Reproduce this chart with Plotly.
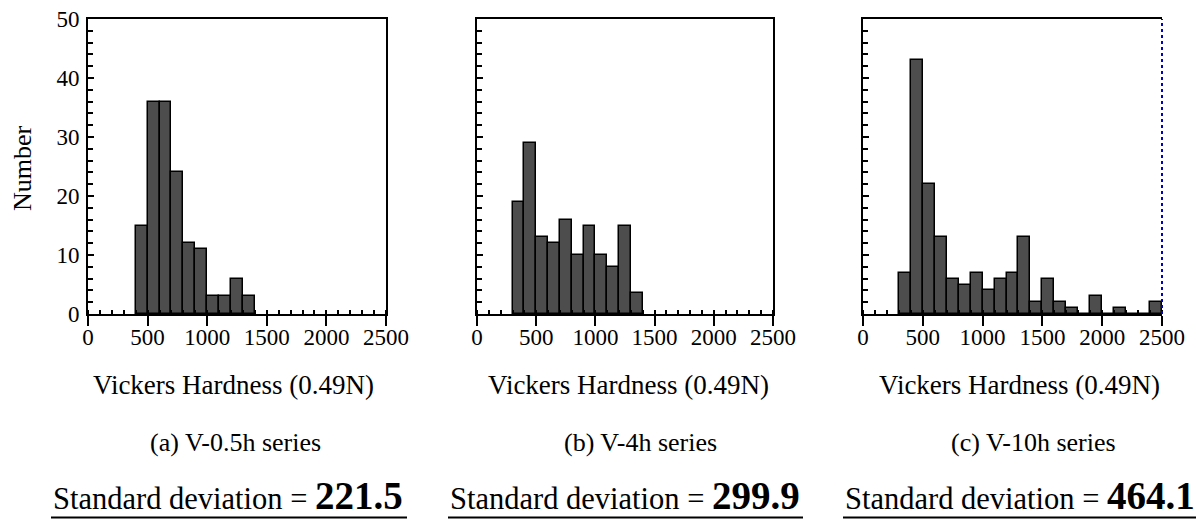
import plotly.graph_objects as go

# Vickers hardness histograms, 100-unit bins (left edges listed)
BIN_WIDTH = 100

bins_a = [400, 500, 600, 700, 800, 900, 1000, 1100, 1200, 1300]
counts_a = [15, 36, 36, 24, 12, 11, 3, 3, 6, 3]

bins_b = [300, 400, 500, 600, 700, 800, 900, 1000, 1100, 1200, 1300]
counts_b = [19, 29, 13, 12, 16, 10, 15, 10, 8, 15, 3.6]

bins_c = [300, 400, 500, 600, 700, 800, 900, 1000, 1100, 1200, 1300,
          1400, 1500, 1600, 1700, 1800, 1900, 2000, 2100, 2200, 2300, 2400]
counts_c = [7, 43, 22, 13, 6, 5, 7, 4, 6, 7, 13,
            2, 6, 2, 1, 0, 3, 0, 1, 0, 0, 2]

captions = ["(a) V-0.5h series", "(b) V-4h series", "(c) V-10h series"]
std_devs = ["221.5", "299.9", "464.1"]
x_ticks = [0, 500, 1000, 1500, 2000, 2500]
x_title = "Vickers Hardness (0.49N)"
y_title = "Number"

W, H = 1196, 523
FONT = "Liberation Serif"
BAR_FILL = "#4d4d4d"

# panel boxes in pixels: (left, right)
panel_px = [(88, 386), (477, 773), (863, 1162)]
top_px, bottom_px = 19, 314
# text centres per panel
xtitle_cx = [233, 628, 1019]
caption_cx = [235, 640, 1033]
std_span = [(51, 407), (448, 803), (843, 1196)]


def px_x(v):
    return v / W


def px_y(v):
    return 1 - v / H


fig = go.Figure()

series = [(bins_a, counts_a), (bins_b, counts_b), (bins_c, counts_c)]
for i, (b, c) in enumerate(series):
    suffix = "" if i == 0 else str(i + 1)
    fig.add_trace(go.Bar(
        x=b, y=c, width=BIN_WIDTH, offset=0,
        marker=dict(color=BAR_FILL, line=dict(color="black", width=1.5)),
        xaxis="x" + suffix, yaxis="y" + suffix,
        showlegend=False, hoverinfo="skip",
    ))

layout = dict(
    width=W, height=H,
    margin=dict(l=0, r=0, t=0, b=0, pad=0, autoexpand=False),
    paper_bgcolor="white", plot_bgcolor="white",
    font=dict(family=FONT, color="black"),
    bargap=0,
)

for i, (l, r) in enumerate(panel_px):
    suffix = "" if i == 0 else str(i + 1)
    layout["xaxis" + suffix] = dict(
        domain=[px_x(l), px_x(r)], anchor="y" + suffix,
        range=[0, 2500], tickvals=x_ticks,
        ticks="outside", ticklen=10, tickwidth=2, tickcolor="black",
        ticklabelstandoff=-9,
        minor=dict(dtick=100, ticks="inside", ticklen=4, tickwidth=1.5, tickcolor="black"),
        showline=True, linewidth=2, linecolor="black", mirror=True,
        showgrid=False, zeroline=False, automargin=False,
        tickfont=dict(family=FONT, size=23, color="black"),
    )
    layout["yaxis" + suffix] = dict(
        domain=[px_y(bottom_px), px_y(top_px)], anchor="x" + suffix,
        range=[0, 50], dtick=10,
        ticks="inside", ticklen=6, tickwidth=1.5, tickcolor="black",
        ticklabelstandoff=2,
        minor=dict(dtick=2, ticks="inside", ticklen=5, tickwidth=1.5, tickcolor="black"),
        showline=True, linewidth=2, linecolor="black",
        mirror=(i != 2),
        showgrid=False, zeroline=False, automargin=False,
        showticklabels=(i == 0),
        tickfont=dict(family=FONT, size=23, color="black"),
    )

fig.update_layout(**layout)

annotations = []
shapes = []

annotations.append(dict(
    text=y_title, x=px_x(22), y=px_y(168), xref="paper", yref="paper",
    xanchor="center", yanchor="middle", textangle=-90, showarrow=False,
    font=dict(family=FONT, size=26, color="black"),
))

for i in range(3):
    annotations.append(dict(
        text=x_title, x=px_x(xtitle_cx[i]), y=px_y(385), xref="paper", yref="paper",
        xanchor="center", yanchor="middle", showarrow=False,
        font=dict(family=FONT, size=27, color="black"),
    ))
    annotations.append(dict(
        text=captions[i], x=px_x(caption_cx[i]), y=px_y(442), xref="paper", yref="paper",
        xanchor="center", yanchor="middle", showarrow=False,
        font=dict(family=FONT, size=26, color="black"),
    ))
    s0, s1 = std_span[i]
    annotations.append(dict(
        text="Standard deviation = <b><span style='font-size:39px'>" + std_devs[i] + "</span></b>",
        x=px_x(s0), y=px_y(519), xref="paper", yref="paper",
        xanchor="left", yanchor="bottom", showarrow=False,
        font=dict(family=FONT, size=30.5, color="black"),
    ))
    shapes.append(dict(
        type="line", xref="paper", yref="paper",
        x0=px_x(s0), x1=px_x(min(s1, W)), y0=px_y(517.5), y1=px_y(517.5),
        line=dict(color="black", width=2),
    ))

# right border of the third panel drawn as a blue dotted line
shapes.append(dict(
    type="line", xref="x3 domain", yref="y3 domain",
    x0=1, x1=1, y0=0, y1=1,
    line=dict(color="#0000cc", width=2, dash="dot"),
))

fig.update_layout(annotations=annotations, shapes=shapes)
fig.write_html("out.html")
